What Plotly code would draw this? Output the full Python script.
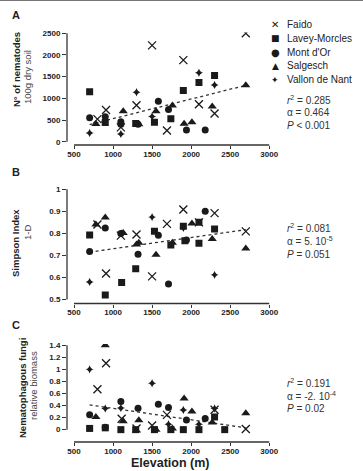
import plotly.graph_objects as go

# ---------------- data ----------------
sites = ["Faido", "Lavey-Morcles", "Mont d'Or", "Salgesch", "Vallon de Nant"]

# Panel A: N° of nematodes per 100 g dry soil
A_faido_x = [800, 910, 1100, 1300, 1500, 1690, 1900, 2100, 2300, 2700]
A_faido_y = [520, 730, 330, 840, 2220, 260, 1880, 865, 650, 2500]
A_lavey_x = [700, 900, 1290, 1530, 1740, 1900, 2100, 2300]
A_lavey_y = [1150, 445, 420, 450, 530, 1180, 1365, 1525]
A_mont_x = [700, 900, 1100, 1100, 1320, 1580, 1710, 1940, 2180]
A_mont_y = [555, 575, 460, 400, 400, 935, 745, 270, 270]
A_salg_x = [780, 1130, 1330, 1550, 1760, 1910, 2010, 2270, 2700]
A_salg_y = [410, 700, 400, 700, 835, 415, 450, 810, 1300]
A_vall_x = [700, 1100, 1300, 1500, 2100, 2300]
A_vall_y = [200, 180, 1140, 580, 1590, 1310]

# Panel B: Simpson index 1-D
B_faido_x = [800, 910, 1100, 1300, 1500, 1690, 1900, 2100, 2300, 2700]
B_faido_y = [0.84, 0.618, 0.79, 0.795, 0.605, 0.843, 0.908, 0.85, 0.892, 0.809]
B_lavey_x = [700, 900, 1110, 1290, 1530, 1740, 1900, 1920, 2100, 2100, 2300]
B_lavey_y = [0.793, 0.52, 0.577, 0.64, 0.81, 0.747, 0.832, 0.767, 0.755, 0.85, 0.82]
B_mont_x = [700, 900, 1100, 1320, 1580, 1710, 1940, 2180]
B_mont_y = [0.718, 0.825, 0.80, 0.705, 0.792, 0.57, 0.77, 0.90]
B_salg_x = [780, 900, 1130, 1300, 1330, 1550, 1760, 2010, 2270, 2700]
B_salg_y = [0.84, 0.872, 0.802, 0.75, 0.758, 0.703, 0.758, 0.845, 0.775, 0.732]
B_vall_x = [700, 1110, 1500, 1900, 2300]
B_vall_y = [0.58, 0.80, 0.874, 0.825, 0.612]

# Panel C: Nematophagous fungi relative biomass
C_faido_x = [800, 910, 1110, 1300, 1500, 1690, 2300, 2700]
C_faido_y = [0.67, 1.10, 0.18, 0.02, 0.07, 0.245, 0.33, 0.01]
C_lavey_x = [700, 900, 1100, 1290, 1530, 1740, 1900, 2100, 2300, 2430]
C_lavey_y = [0.02, 0.03, 0.0, 0.0, 0.0, 0.0, 0.0, 0.0, 0.21, 0.0]
C_mont_x = [700, 900, 1100, 1320, 1580, 1710, 1940, 2180]
C_mont_y = [0.245, 0.04, 0.465, 0.355, 0.42, 0.365, 0.16, 0.185]
C_salg_x = [780, 900, 1130, 1330, 1550, 1760, 1910, 2010, 2270, 2700]
C_salg_y = [0.21, 1.40, 0.14, 0.155, 0.0, 0.02, 0.515, 0.30, 0.12, 0.27]
C_vall_x = [700, 900, 1100, 1500, 1710, 1900, 2100, 2300]
C_vall_y = [1.0, 0.35, 0.36, 0.77, 0.09, 0.325, 0.09, 0.35]

# regression lines (endpoints)
trend_x = [700, 2700]
trend_A = [395, 1300]
trend_B = [0.715, 0.817]
trend_C = [0.41, 0.03]

x_ticks = [500, 1000, 1500, 2000, 2500, 3000]
A_ticks = [0, 500, 1000, 1500, 2000, 2500]
B_ticks = [0.5, 0.6, 0.7, 0.8, 0.9, 1.0]
B_ticktext = ["0.5", "0.6", "0.7", "0.8", "0.9", "1"]
C_ticks = [0, 0.2, 0.4, 0.6, 0.8, 1.0, 1.2, 1.4]
C_ticktext = ["0", "0.2", "0.4", "0.6", "0.8", "1", "1.2", "1.4"]

stats_A = ["<i>r</i><sup>2</sup> = 0.285", "α = 0.464", "<i>P</i> < 0.001"]
stats_B = ["<i>r</i><sup>2</sup> = 0.081", "α = 5. 10<sup>-5</sup>", "<i>P</i> = 0.051"]
stats_C = ["<i>r</i><sup>2</sup> = 0.191", "α = -2. 10<sup>-4</sup>", "<i>P</i> = 0.02"]

legend_glyphs = ["✕", "■", "●", "▲", "✦"]

# ---------------- layout helpers ----------------
W, H = 363, 471
FONT = "Liberation Sans, Arial, sans-serif"
INK = "#1a1a1a"
AX = "#333333"

def py(p):
    return 1 - p / H

def pxx(p):
    return p / W

styles = [
    dict(symbol="x-thin-open", size=8, line=dict(width=1.3, color=INK), color=INK),
    dict(symbol="square", size=7, color=INK, line=dict(width=0)),
    dict(symbol="circle", size=7, color=INK, line=dict(width=0)),
    dict(symbol="triangle-up", size=8, color=INK, line=dict(width=0)),
    dict(symbol="star-diamond", size=6, color=INK, line=dict(width=0)),
]

panels = [
    ("x", "y", [(A_faido_x, A_faido_y), (A_lavey_x, A_lavey_y), (A_mont_x, A_mont_y), (A_salg_x, A_salg_y), (A_vall_x, A_vall_y)], trend_A),
    ("x2", "y2", [(B_faido_x, B_faido_y), (B_lavey_x, B_lavey_y), (B_mont_x, B_mont_y), (B_salg_x, B_salg_y), (B_vall_x, B_vall_y)], trend_B),
    ("x3", "y3", [(C_faido_x, C_faido_y), (C_lavey_x, C_lavey_y), (C_mont_x, C_mont_y), (C_salg_x, C_salg_y), (C_vall_x, C_vall_y)], trend_C),
]

fig = go.Figure()
for pi, (xa, ya, series, trend) in enumerate(panels):
    fig.add_trace(go.Scatter(x=trend_x, y=trend, mode="lines", xaxis=xa, yaxis=ya,
                             line=dict(color=AX, width=1.3, dash="dot"),
                             showlegend=False, hoverinfo="skip"))
    for si, (sx, sy) in enumerate(series):
        fig.add_trace(go.Scatter(x=sx, y=sy, mode="markers", xaxis=xa, yaxis=ya,
                                 name=sites[si], legendgroup=sites[si],
                                 showlegend=False, marker=styles[si]))

xdom = [pxx(67), pxx(270)]
tickfont = dict(family=FONT, size=8, color="#222", weight="bold")
common_x = dict(range=[410, 3010], domain=xdom, tickvals=x_ticks, ticks="outside",
                ticklen=3, tickwidth=1.3, tickcolor=AX, showline=False, showgrid=False,
                zeroline=False, tickfont=tickfont, automargin=False, fixedrange=True,
                ticklabelstandoff=-2)
common_y = dict(ticks="outside", ticklen=4, tickwidth=1.3, tickcolor=AX, showline=False,
                showgrid=False, zeroline=False, tickfont=tickfont, automargin=False,
                fixedrange=True)

fig.update_layout(
    width=W, height=H, margin=dict(l=0, r=0, t=0, b=0),
    paper_bgcolor="white", plot_bgcolor="white",
    font=dict(family=FONT, color="#222"),
    showlegend=False,
    xaxis=dict(common_x, anchor="y"),
    xaxis2=dict(common_x, anchor="y2"),
    xaxis3=dict(common_x, anchor="y3"),
    yaxis=dict(common_y, anchor="x", domain=[py(145), py(32.4)], range=[-76, 2520],
               tickvals=A_ticks),
    yaxis2=dict(common_y, anchor="x2", domain=[py(303.5), py(188.2)], range=[0.482, 1.005],
                tickvals=B_ticks, ticktext=B_ticktext),
    yaxis3=dict(common_y, anchor="x3", domain=[py(442), py(344)], range=[-0.205, 1.42],
                tickvals=C_ticks, ticktext=C_ticktext),
)

shapes = []
# detached Prism-style axis lines
for xa, ya, ybot, ytop in [("x", "y", 0, 2500), ("x2", "y2", 0.5, 1.0), ("x3", "y3", 0, 1.4)]:
    shapes.append(dict(type="line", xref=xa, yref=ya + " domain", x0=500, x1=3000, y0=0, y1=0,
                       line=dict(color=AX, width=1.3)))
    shapes.append(dict(type="line", xref=xa + " domain", yref=ya, x0=0, x1=0, y0=ybot, y1=ytop,
                       line=dict(color=AX, width=1.3)))
shapes.append(dict(type="line", xref="paper", yref="paper", x0=0, x1=1, y0=1, y1=1,
                   line=dict(color="#777", width=2)))
fig.update_layout(shapes=shapes)

ann = []
def add(text, x, y, size=10, bold=False, angle=0, xanchor="center", color="#222",
        family=FONT, yanchor="middle"):
    ann.append(dict(text=text, x=pxx(x), y=py(y), xref="paper", yref="paper",
                    showarrow=False, textangle=angle, xanchor=xanchor, yanchor=yanchor,
                    borderpad=0,
                    font=dict(family=family, size=size, color=color,
                              weight="bold" if bold else "normal")))

# panel letters
add("A", 16, 15, size=11, bold=True)
add("B", 16, 172, size=11, bold=True)
add("C", 16, 325, size=11, bold=True)

# y axis titles
add("N° of nematodes", 17, 70, size=9.5, bold=True, angle=-90)
add("100g dry soil", 28, 77, size=9.5, angle=-90, color="#444")
add("Simpson Index", 15, 243, size=9.5, bold=True, angle=-90)
add("1-D", 27, 233, size=9.5, angle=-90, color="#444")
add("Nematophagous fungi", 22, 388, size=9.5, bold=True, angle=-90)
add("relative biomass", 33, 386, size=9.5, angle=-90, color="#444")

# x title
add("Elevation (m)", 170, 471, size=12.5, bold=True, yanchor="bottom")

# legend (key glyphs + site names)
leg_rows = [25, 38.5, 52.5, 66, 80]
glyph_sizes = [10, 9, 10, 9, 9]
for g, gs, name, yy in zip(legend_glyphs, glyph_sizes, sites, leg_rows):
    add(g, 275, yy, size=gs, color=INK, family="DejaVu Sans")
    add(name, 286, yy, size=10, xanchor="left", color="#222")

# statistics
for stats, ys in [(stats_A, [100, 113, 126]), (stats_B, [228, 241, 254]), (stats_C, [383, 396, 408])]:
    for t, yy in zip(stats, ys):
        add(t, 286, yy, size=10, xanchor="left", color="#333")

fig.update_layout(annotations=ann)
fig.write_html("out.html")
